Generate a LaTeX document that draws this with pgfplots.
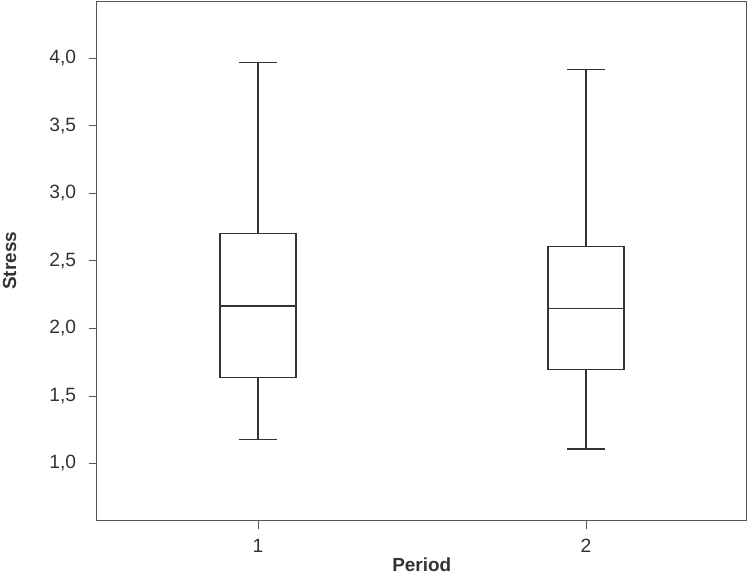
\documentclass[border=0pt]{standalone}
\usepackage{fontspec}
\setmainfont{Liberation Sans}
\usepackage{pgfplots}
\pgfplotsset{compat=1.18}
\usepgfplotslibrary{statistics}
\definecolor{ink}{HTML}{333333}
\definecolor{spine}{HTML}{555555}
\begin{document}
\begin{tikzpicture}
\path[use as bounding box] (-96.7bp,-54.3bp) rectangle (651.3bp,520.7bp);
\begin{axis}[
  at={(0,0)}, anchor=south west,
  scale only axis, width=650bp, height=519.7bp,
  xmin=0.508, xmax=2.49, ymin=0.575, ymax=4.424,
  xtick={1,2}, ytick={1,1.5,2,2.5,3,3.5,4},
  /pgf/number format/assume math mode=true,
  yticklabel style={/pgf/number format/fixed, /pgf/number format/fixed zerofill, /pgf/number format/precision=1, /pgf/number format/use comma, xshift=-9bp},
  xticklabel style={yshift=-7bp},
  tick align=outside, xtick pos=left, ytick pos=left,
  major tick length=8bp,
  every tick/.style={spine, line width=0.6pt},
  axis line style={spine, line width=0.8pt},
  every tick label/.append style={font=\fontsize{19.3}{23}\selectfont, text=ink},
  every axis label/.append style={font=\fontsize{19}{23}\selectfont\bfseries, text=ink, inner sep=0.5bp},
  xlabel={Period}, ylabel={Stress},
  xlabel style={at={(axis description cs:0.5,0)}, anchor=center, yshift=-44.5bp},
  ylabel style={at={(axis description cs:0,0.5)}, anchor=center, rotate=0, yshift=87bp},
  boxplot/draw direction=y,
  boxplot/box extend=0.232,
  boxplot/whisker extend=0.114,
]
\addplot+[ink, line width=1.25pt, solid, mark=none,
  boxplot prepared={draw position=1, lower whisker=1.178, lower quartile=1.634,
    median=2.166, upper quartile=2.703, upper whisker=3.967}]
  coordinates {};
\addplot+[ink, line width=1.25pt, solid, mark=none,
  boxplot prepared={draw position=2, lower whisker=1.106, lower quartile=1.694,
    median=2.148, upper quartile=2.607, upper whisker=3.915}]
  coordinates {};
\end{axis}
\end{tikzpicture}
\end{document}
